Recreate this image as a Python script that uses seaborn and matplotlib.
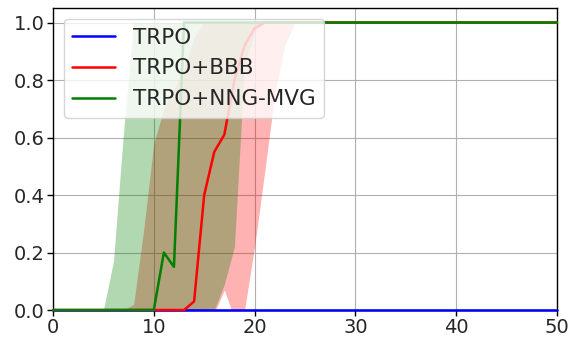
import numpy as np
import pandas as pd
import seaborn as sns
import matplotlib
matplotlib.use("Agg")
import matplotlib.pyplot as plt

# ---- data ----
steps = list(range(0, 51))

trpo_mean = [
    0, 0, 0, 0, 0, 0, 0, 0, 0, 0,
    0, 0, 0, 0, 0, 0, 0, 0, 0, 0,
    0, 0, 0, 0, 0, 0, 0, 0, 0, 0,
    0, 0, 0, 0, 0, 0, 0, 0, 0, 0,
    0, 0, 0, 0, 0, 0, 0, 0, 0, 0, 0]

bbb_mean = [
    0, 0, 0, 0, 0, 0, 0, 0, 0, 0,
    0, 0, 0, 0, 0.03, 0.40, 0.55, 0.61, 0.80, 0.92,
    0.98, 1, 1, 1, 1, 1, 1, 1, 1, 1,
    1, 1, 1, 1, 1, 1, 1, 1, 1, 1,
    1, 1, 1, 1, 1, 1, 1, 1, 1, 1, 1]
bbb_upper = [
    0, 0, 0, 0, 0, 0, 0, 0, 0.02, 0.28,
    0.58, 0.70, 0.77, 0.84, 0.95, 1, 1, 1, 1, 1,
    1, 1, 1, 1, 1, 1, 1, 1, 1, 1,
    1, 1, 1, 1, 1, 1, 1, 1, 1, 1,
    1, 1, 1, 1, 1, 1, 1, 1, 1, 1, 1]
bbb_lower = [
    0, 0, 0, 0, 0, 0, 0, 0, 0, 0,
    0, 0, 0, 0, 0, 0, -0.01, 0.07, -0.03, 0.0,
    0.22, 0.48, 0.75, 0.92, 1, 1, 1, 1, 1, 1,
    1, 1, 1, 1, 1, 1, 1, 1, 1, 1,
    1, 1, 1, 1, 1, 1, 1, 1, 1, 1, 1]

nng_mean = [
    0, 0, 0, 0, 0, 0, 0, 0, 0, 0,
    0, 0.20, 0.15, 1, 1, 1, 1, 1, 1, 1,
    1, 1, 1, 1, 1, 1, 1, 1, 1, 1,
    1, 1, 1, 1, 1, 1, 1, 1, 1, 1,
    1, 1, 1, 1, 1, 1, 1, 1, 1, 1, 1]
nng_upper = [
    0, 0, 0, 0, 0, 0, 0.17, 0.62, 1, 1,
    1, 1, 1, 1, 1, 1, 1, 1, 1, 1,
    1, 1, 1, 1, 1, 1, 1, 1, 1, 1,
    1, 1, 1, 1, 1, 1, 1, 1, 1, 1,
    1, 1, 1, 1, 1, 1, 1, 1, 1, 1, 1]
nng_lower = [
    0, 0, 0, 0, 0, 0, 0, 0, 0, 0,
    0, 0, 0, 0, 0, 0, 0, 0.09, 0.22, 0.85,
    0.97, 1, 1, 1, 1, 1, 1, 1, 1, 1,
    1, 1, 1, 1, 1, 1, 1, 1, 1, 1,
    1, 1, 1, 1, 1, 1, 1, 1, 1, 1, 1]

labels = ["TRPO", "TRPO+BBB", "TRPO+NNG-MVG"]
colors = ["#0000ff", "#ff0000", "#008000"]

# ---- figure ----
sns.set_style("white")
plt.rcParams["font.family"] = ["DejaVu Sans"]

fig, ax = plt.subplots(figsize=(5.68, 3.39), dpi=100)
fig.subplots_adjust(left=0.0933, right=0.9806, bottom=0.0855, top=0.976)

# bands
ax.fill_between(steps, bbb_lower, bbb_upper, color=colors[1], alpha=0.3, linewidth=0)
ax.fill_between(steps, nng_lower, nng_upper, color=colors[2], alpha=0.3, linewidth=0)

# mean lines
for ys, lab, col in zip([trpo_mean, bbb_mean, nng_mean], labels, colors):
    df = pd.DataFrame({"step": steps, "value": ys})
    sns.lineplot(data=df, x="step", y="value", color=col, label=lab,
                 linewidth=1.8, ax=ax, clip_on=False, zorder=3)

ax.set_xlim(0, 50)
ax.set_ylim(0, 1.05)
ax.set_xticks([0, 10, 20, 30, 40, 50])
ax.set_yticks([0.0, 0.2, 0.4, 0.6, 0.8, 1.0])
ax.set_yticklabels(["0.0", "0.2", "0.4", "0.6", "0.8", "1.0"])
ax.set_xlabel("")
ax.set_ylabel("")
ax.grid(True, color="#b0b0b0", linewidth=0.8)
ax.set_axisbelow(True)
for s in ax.spines.values():
    s.set_visible(True)
    s.set_color("black")
    s.set_linewidth(1.0)
ax.tick_params(axis="both", labelsize=14, direction="out", length=4,
               width=1, color="black", bottom=True, left=True, pad=2)

leg = ax.legend(loc="upper left", fontsize=15.5, framealpha=0.8,
                edgecolor="#cccccc", fancybox=True)
leg.set_zorder(5)

fig.savefig("out.png", dpi=100)
